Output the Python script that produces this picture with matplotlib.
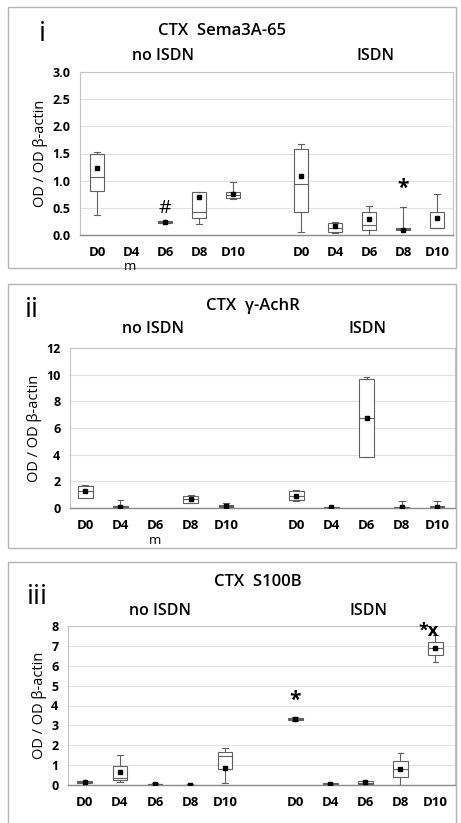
import matplotlib
matplotlib.use("Agg")
import matplotlib.pyplot as plt
from matplotlib.patches import Rectangle

plt.rcParams['font.family'] = ['Open Sans', 'DejaVu Sans']

W, H = 461, 823
days = ["D0", "D4", "D6", "D8", "D10", "D0", "D4", "D6", "D8", "D10"]
pos = [0, 1, 2, 3, 4, 6, 7, 8, 9, 10]

# panel i: CTX Sema3A-65
sema_med = [1.07, None, 0.24, 0.42, 0.73, 0.94, 0.12, 0.18, 0.11, 0.13]
sema_q1 = [0.81, None, 0.23, 0.31, 0.68, 0.43, 0.05, 0.09, 0.10, 0.12]
sema_q3 = [1.49, None, 0.26, 0.80, 0.80, 1.59, 0.23, 0.43, 0.12, 0.42]
sema_lo = [0.37, None, 0.23, 0.21, 0.67, 0.06, 0.04, 0.0, 0.10, 0.12]
sema_hi = [1.53, None, 0.26, 0.80, 0.98, 1.68, 0.24, 0.54, 0.51, 0.75]
sema_mean = [1.24, None, 0.24, 0.70, 0.75, 1.08, 0.17, 0.29, 0.10, 0.31]

# panel ii: CTX gamma-AchR
achr_med = [1.25, 0.07, None, 0.68, 0.15, 0.88, 0.05, 6.75, 0.05, 0.10]
achr_q1 = [0.75, 0.04, None, 0.37, 0.05, 0.57, 0.02, 3.83, 0.02, 0.05]
achr_q3 = [1.68, 0.12, None, 0.92, 0.20, 1.25, 0.10, 9.68, 0.10, 0.15]
achr_lo = [0.75, 0.02, None, 0.35, 0.05, 0.55, 0.02, 3.80, 0.02, 0.05]
achr_hi = [1.75, 0.62, None, 0.95, 0.35, 1.32, 0.10, 9.80, 0.50, 0.50]
achr_mean = [1.25, 0.08, None, 0.68, 0.15, 0.88, 0.05, 6.75, 0.05, 0.10]

# panel iii: CTX S100B
s100_med = [0.15, 0.37, 0.05, 0.01, 1.48, 3.30, 0.07, 0.10, 0.82, 6.88]
s100_q1 = [0.10, 0.25, 0.02, 0.0, 0.80, 3.25, 0.04, 0.03, 0.39, 6.54]
s100_q3 = [0.20, 0.96, 0.07, 0.02, 1.68, 3.38, 0.10, 0.20, 1.21, 7.20]
s100_lo = [0.10, 0.13, 0.02, 0.0, 0.12, 3.22, 0.03, 0.03, 0.0, 6.20]
s100_hi = [0.22, 1.51, 0.08, 0.03, 1.85, 3.40, 0.12, 0.22, 1.63, 7.55]
s100_mean = [0.17, 0.67, 0.05, 0.02, 0.87, 3.30, 0.07, 0.13, 0.80, 6.88]

fig = plt.figure(figsize=(W / 100, H / 100), dpi=100)


def px_axes(l, r, t, b):
    return fig.add_axes([l / W, 1 - b / H, (r - l) / W, (b - t) / H])


def ftext(x, y, s, **kw):
    fig.text(x / W, 1 - y / H, s, ha='center', va='center', **kw)


def panel(ax, med, q1, q3, lo, hi, mean, ylim, yticks, yfmt, xlim):
    stats, ps = [], []
    for i in range(len(pos)):
        if med[i] is None:
            continue
        stats.append(dict(med=med[i], q1=q1[i], q3=q3[i], whislo=lo[i],
                          whishi=hi[i], mean=mean[i], fliers=[]))
        ps.append(pos[i])
    lp = dict(color='#606060', lw=0.8)
    ax.bxp(stats, positions=ps, widths=0.42, showmeans=True, patch_artist=True,
           boxprops=dict(facecolor='white', edgecolor='#606060', lw=0.8),
           medianprops=lp, whiskerprops=lp, capprops=lp, capwidths=0.16,
           meanprops=dict(marker='s', markerfacecolor='black',
                          markeredgecolor='black', markersize=3.4),
           zorder=3)
    ax.set_xlim(*xlim)
    ax.set_ylim(*ylim)
    ax.set_yticks(yticks)
    ax.set_yticklabels([yfmt.format(v) for v in yticks], fontsize=9,
                       fontweight='bold')
    ax.set_xticks(pos)
    ax.set_xticklabels(days, fontsize=9.5, fontweight='bold')
    ax.tick_params(axis='x', length=0, pad=8)
    ax.tick_params(axis='y', length=0, pad=7)
    ax.grid(axis='y', color='#e2e2e2', lw=0.8, zorder=0)
    ax.set_axisbelow(True)
    for s in ['top', 'right', 'left']:
        ax.spines[s].set_color('#c4c4c4')
        ax.spines[s].set_linewidth(0.8)
    ax.spines['bottom'].set_color('#8a8a8a')
    ax.spines['bottom'].set_linewidth(1.0)
    ax.set_ylabel("OD / OD β-actin", fontsize=10.5, labelpad=3)


# outer panel frames
for (x0, y0, x1, y1) in [(8, 7, 456, 268), (8, 284, 456, 548), (8, 562, 456, 830)]:
    fig.add_artist(Rectangle((x0 / W, 1 - y1 / H), (x1 - x0) / W, (y1 - y0) / H,
                             transform=fig.transFigure, fill=False,
                             edgecolor='#b4b4b4', lw=1.0))

tkw = dict(fontsize=12, fontweight='semibold')
gkw = dict(fontsize=11.5, fontweight='semibold')

# panel i
ax1 = px_axes(80, 453, 72, 235)
panel(ax1, sema_med, sema_q1, sema_q3, sema_lo, sema_hi, sema_mean,
      (0, 3.0), [0, 0.5, 1.0, 1.5, 2.0, 2.5, 3.0], "{:.1f}", (-0.5, 10.47))
ax1.text(2, 0.5, "#", ha='center', va='center', fontsize=14)
ax1.text(9, 0.85, "*", ha='center', va='center', fontsize=15, fontweight='bold')
ftext(42, 34, "i", fontsize=20)
ftext(222, 31, "CTX  Sema3A-65", **tkw)
ftext(163, 56, "no ISDN", **gkw)
ftext(376, 56, "ISDN", **gkw)
ftext(130, 267, "m", fontsize=9.5)

# panel ii
ax2 = px_axes(70, 455, 348, 508)
panel(ax2, achr_med, achr_q1, achr_q3, achr_lo, achr_hi, achr_mean,
      (0, 12), [0, 2, 4, 6, 8, 10, 12], "{:d}", (-0.43, 10.51))
ftext(32, 310, "ii", fontsize=20)
ftext(253, 306, "CTX  γ-AchR", **tkw)
ftext(153, 329, "no ISDN", **gkw)
ftext(367, 329, "ISDN", **gkw)
ftext(155, 540, "m", fontsize=9.5)

# panel iii
ax3 = px_axes(68, 455, 626, 785)
panel(ax3, s100_med, s100_q1, s100_q3, s100_lo, s100_hi, s100_mean,
      (0, 8), [0, 1, 2, 3, 4, 5, 6, 7, 8], "{:d}", (-0.48, 10.56))
ax3.text(6, 4.25, "*", ha='center', va='center', fontsize=15, fontweight='bold')
ax3.text(9.8, 7.75, "*x", ha='center', va='center', fontsize=13, fontweight='bold')
ftext(37, 597, "iii", fontsize=20)
ftext(258, 582, "CTX  S100B", **tkw)
ftext(160, 611, "no ISDN", **gkw)
ftext(368, 611, "ISDN", **gkw)

fig.savefig("out.png", dpi=100)
